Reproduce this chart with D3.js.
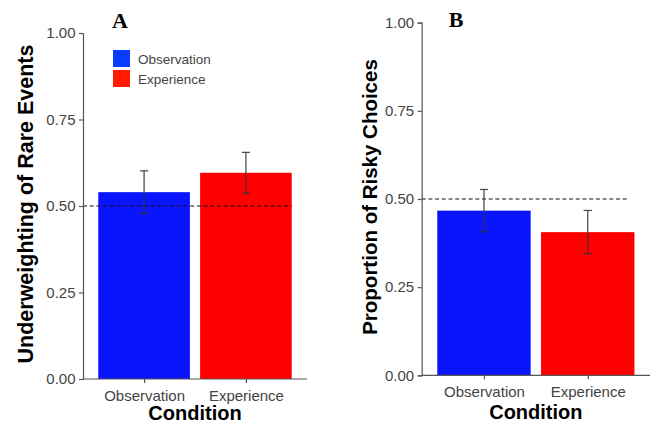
<!DOCTYPE html>
<html>
<head>
<meta charset="utf-8">
<script src="https://cdn.jsdelivr.net/npm/d3@7"></script>
<style>
  html, body { margin: 0; padding: 0; background: #fff; }
  svg { display: block; }
</style>
</head>
<body>
<svg id="chart" width="651" height="424"></svg>
<script>
// ---- data ----
const categories = ["Observation", "Experience"];
const colors = ["#0a14ff", "#ff0000"];
const legendColors = ["#0a3cff", "#ff1a00"];
const yTicks = [0, 0.25, 0.5, 0.75, 1.0];
const refLine = 0.5;

const meansA = [0.540, 0.596];
const errA = [0.0615, 0.059];
const meansB = [0.467, 0.406];
const errB = [0.060, 0.0615];

const panels = [
  { title: "A", ylab: "Underweighting of Rare Events", means: meansA, errs: errA,
    x0: 83, x1: 307, yTop: 33, yBot: 379, labX: 32.5, labSize: 21.5, titleX: 120, titleY: 28,
    dashEnd: 2.45, condY: 420, legend: true },
  { title: "B", ylab: "Proportion of Risky Choices", means: meansB, errs: errB,
    x0: 421.7, x1: 650, yTop: 22.7, yBot: 375.3, labX: 377.3, labSize: 20.5, titleX: 456, titleY: 27.3,
    dashEnd: 2.38, condY: 419, legend: false }
];

const svg = d3.select("#chart");
const axisColor = "#555";
const tickTextColor = "#444";

panels.forEach(p => {
  const g = svg.append("g");
  // continuous x in ggplot units (limits 0.4..2.6)
  const xu = d3.scaleLinear().domain([0.4, 2.6]).range([p.x0, p.x1]);
  const y = d3.scaleLinear().domain([0, 1]).range([p.yBot, p.yTop]);
  const barW = 0.9;

  // bars
  g.selectAll("rect.bar").data(p.means).enter().append("rect")
    .attr("class", "bar")
    .attr("x", (d, i) => xu(i + 1 - barW / 2))
    .attr("width", (d, i) => xu(i + 1 + barW / 2) - xu(i + 1 - barW / 2))
    .attr("y", d => y(d))
    .attr("height", d => y(0) - y(d))
    .attr("fill", (d, i) => colors[i]);

  // dashed reference line
  g.append("line")
    .attr("x1", xu(0.4)).attr("x2", xu(p.dashEnd))
    .attr("y1", y(refLine)).attr("y2", y(refLine))
    .attr("stroke", "#111").attr("stroke-width", 1.2)
    .attr("stroke-dasharray", "4,2.7");

  // error bars
  const capHalf = 0.04;
  p.means.forEach((m, i) => {
    const e = p.errs[i];
    const cx = xu(i + 1);
    const eg = g.append("g").attr("stroke", "#333").attr("stroke-opacity", 0.85).attr("stroke-width", 1.3);
    eg.append("line").attr("x1", cx).attr("x2", cx).attr("y1", y(m - e)).attr("y2", y(m + e));
    eg.append("line").attr("x1", xu(i + 1 - capHalf)).attr("x2", xu(i + 1 + capHalf)).attr("y1", y(m + e)).attr("y2", y(m + e));
    eg.append("line").attr("x1", xu(i + 1 - capHalf)).attr("x2", xu(i + 1 + capHalf)).attr("y1", y(m - e)).attr("y2", y(m - e));
  });

  // y axis
  const yAxis = d3.axisLeft(y).tickValues(yTicks).tickFormat(d3.format(".2f")).tickSize(4).tickPadding(3.5);
  const ya = g.append("g").attr("transform", `translate(${p.x0},0)`).call(yAxis);
  ya.select(".domain").attr("stroke", axisColor).attr("stroke-width", 1.2);
  ya.selectAll(".tick line").attr("stroke", axisColor).attr("stroke-width", 1.2);
  ya.selectAll(".tick text").attr("fill", tickTextColor)
    .attr("font-family", "Liberation Sans, Arial, sans-serif").attr("font-size", 15);

  // x axis (band)
  const xb = d3.scalePoint().domain(categories).range([xu(1), xu(2)]);
  const xAxis = d3.axisBottom(xb).tickSize(4).tickPadding(6);
  const xa = g.append("g").attr("transform", `translate(0,${p.yBot})`).call(xAxis);
  xa.select(".domain").remove();
  xa.append("line").attr("x1", p.x0).attr("x2", p.x1).attr("y1", 0).attr("y2", 0)
    .attr("stroke", axisColor).attr("stroke-width", 1.2);
  xa.selectAll(".tick line").attr("stroke", axisColor).attr("stroke-width", 1.2);
  xa.selectAll(".tick text").attr("fill", tickTextColor)
    .attr("font-family", "Liberation Sans, Arial, sans-serif").attr("font-size", 15)
    .attr("dy", null).attr("y", 21.5);

  // x title
  g.append("text").text("Condition")
    .attr("x", (p.x0 + p.x1) / 2).attr("y", p.condY)
    .attr("text-anchor", "middle").attr("font-family", "Liberation Sans, Arial, sans-serif")
    .attr("font-weight", "bold").attr("font-size", 20).attr("fill", "#000");

  // y title
  g.append("text").text(p.ylab)
    .attr("transform", `translate(${p.labX},${(p.yTop + p.yBot) / 2 - 2}) rotate(-90)`)
    .attr("text-anchor", "middle").attr("font-family", "Liberation Sans, Arial, sans-serif")
    .attr("font-weight", "bold").attr("font-size", p.labSize).attr("fill", "#000");

  // panel title
  g.append("text").text(p.title)
    .attr("x", p.titleX).attr("y", p.titleY)
    .attr("text-anchor", "middle").attr("font-family", "Liberation Serif, Times New Roman, serif")
    .attr("font-weight", "bold").attr("font-size", 22).attr("fill", "#000");

  // legend
  if (p.legend) {
    const lg = g.append("g");
    categories.forEach((c, i) => {
      lg.append("rect").attr("x", 113).attr("y", 50 + i * 20).attr("width", 17).attr("height", 17)
        .attr("fill", legendColors[i]);
      lg.append("text").text(c).attr("x", 138).attr("y", 64 + i * 19.5)
        .attr("font-family", "Liberation Sans, Arial, sans-serif").attr("font-size", 13.5)
        .attr("fill", tickTextColor);
    });
  }
});
</script>
</body>
</html>
